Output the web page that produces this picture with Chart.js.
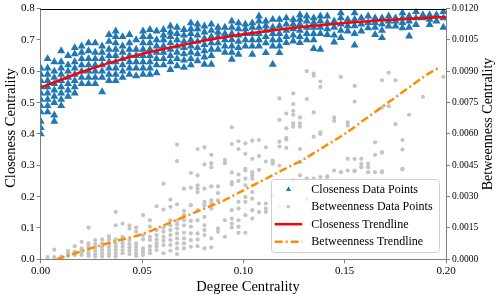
<!DOCTYPE html>
<html>
<head>
<meta charset="utf-8">
<script src="https://cdn.jsdelivr.net/npm/chart.js@4/dist/chart.umd.min.js"></script>
<style>
html,body{margin:0;padding:0;background:#fff;}
canvas{display:block;}
</style>
</head>
<body>
<canvas id="c" width="498" height="295"></canvas>
<script>
// ---------- DATA ----------
const xTitle = 'Degree Centrality';
const yTitle = 'Closeness Centrality';
const y1Title = 'Betweenness Centrality';
const legendLabels = ['Closeness Data Points', 'Betweenness Data Points', 'Closeness Trendline', 'Betweenness Trendline'];

const xTicks = [0, 0.05, 0.10, 0.15, 0.20];
const yTicks = [0, 0.1, 0.2, 0.3, 0.4, 0.5, 0.6, 0.7, 0.8];
const y1Ticks = [0, 0.0015, 0.003, 0.0045, 0.006, 0.0075, 0.009, 0.0105, 0.012];

// degree-centrality columns (discrete values)
const degreeCols = [0.0000,0.0034,0.0067,0.0101,0.0135,0.0168,0.0202,0.0236,0.0269,0.0303,
  0.0337,0.0370,0.0404,0.0438,0.0471,0.0505,0.0539,0.0572,0.0606,0.0640,
  0.0673,0.0707,0.0741,0.0774,0.0808,0.0842,0.0875,0.0909,0.0943,0.0976,
  0.1010,0.1044,0.1077,0.1111,0.1145,0.1178,0.1212,0.1246,0.1279,0.1313,
  0.1347,0.1380,0.1414,0.1448,0.1481,0.1515,0.1549,0.1582,0.1616,0.1650,
  0.1684,0.1717,0.1751,0.1785,0.1818,0.1852,0.1886,0.1919,0.1953,0.1987];

// closeness values per degree column
const closenessCols = [
  [.40,.42,.44,.47,.49,.51,.53,.55,.57,.59,.61],
  [.47,.49,.51,.53,.55,.57,.59,.61,.64],
  [.44,.46,.50,.52,.54,.56,.58,.60,.63],
  [.49,.51,.53,.55,.57,.59,.61,.63,.665],
  [.52,.54,.56,.58,.60,.62,.65],
  [.53,.55,.57,.59,.61,.63,.655,.675],
  [.56,.58,.60,.62,.64,.66,.68],
  [.56,.58,.60,.62,.64,.665,.69],
  [.56,.58,.60,.62,.64,.66,.69],
  [.534,.58,.60,.62,.64,.66,.68],
  [.57,.59,.61,.63,.65,.67,.695,.717],
  [.57,.59,.61,.63,.65,.67,.69,.71,.728],
  [.58,.60,.62,.64,.66,.68,.71],
  [.59,.61,.63,.65,.67,.69,.717],
  [.585,.61,.63,.65,.67,.70],
  [.59,.61,.63,.65,.67,.69,.71,.728],
  [.59,.61,.63,.65,.67,.69,.71,.733],
  [.595,.62,.64,.66,.68,.70,.728],
  [.62,.64,.66,.68,.70,.715,.733],
  [.605,.63,.65,.67,.69,.71,.725,.744],
  [.617,.64,.66,.68,.70,.72,.74],
  [.612,.635,.655,.675,.695,.715,.733],
  [.62,.64,.66,.68,.70,.72,.735,.754],
  [.633,.655,.675,.695,.715,.735,.75],
  [.622,.645,.665,.685,.705,.725,.744],
  [.622,.65,.67,.69,.71,.73,.75],
  [.67,.69,.71,.725,.74],
  [.66,.68,.70,.72,.74],
  [.638,.66,.68,.70,.72,.74,.76],
  [.654,.675,.695,.715,.735,.754],
  [.68,.70,.72,.735,.75],
  [.654,.68,.70,.72,.74,.754],
  [.68,.70,.72,.74,.76,.776],
  [.659,.69,.71,.73,.745,.76],
  [.622,.68,.70,.72,.74,.765],
  [.659,.68,.70,.72,.745,.765],
  [.691,.71,.73,.75,.77],
  [.696,.715,.735,.75,.765],
  [.691,.71,.73,.75,.765,.78],
  [.70,.72,.74,.76,.776],
  [.672,.70,.72,.74,.755,.77],
  [.67,.72,.74,.76,.776],
  [.717,.735,.755,.776],
  [.693,.715,.74,.76],
  [.707,.73,.75,.77,.786],
  [.728,.745,.765],
  [.683,.72,.745,.765,.786],
  [.728,.75,.77],
  [.738,.755,.776],
  [.717,.74,.755,.77],
  [.707,.73,.75,.77],
  [.744,.76,.776],
  [.744,.76,.77],
  [.738,.755,.77,.786],
  [.712,.74,.76,.776],
  [.749,.77,.79],
  [.77,.78],
  [.749,.765,.78],
  [.76,.78],
  [.74,.77,.79]
];

// betweenness values per degree column
const betweennessCols = [
  [],
  [.0001],
  [.0001,.00046],
  [.00013],
  [.00016,.00029,.00041],
  [.00021,.00037,.00063],
  [.00021,.00037,.00052,.00084],
  [.00016,.00029,.00044,.0006,.00076,.00152],
  [.00013,.00025,.00041,.00057,.00073,.00092],
  [.00013,.00029,.00044,.0006,.00076,.00095],
  [.00016,.00029,.00044,.0006,.00076,.00095,.00111],
  [.00013,.00029,.00044,.0006,.00076,.00095,.00163,.00227],
  [.00029,.00044,.0006,.00076,.00092,.00108,.00171],
  [.00025,.00041,.00057,.00073,.00092,.00148,.00163],
  [.00016,.00029,.00044,.0006,.00076,.00132,.00152],
  [.00021,.00037,.00052,.00095,.00116,.00211],
  [.00029,.00044,.00063,.00092,.00108,.00156,.00187],
  [.00044,.00063,.00076,.00095,.00116,.0014,.00254],
  [.00029,.00068,.00089,.00108,.00132,.00152,.00238,.00362],
  [.00041,.00068,.00092,.00116,.0014,.00163,.00187,.00251,.00286],
  [.00025,.00052,.00076,.001,.00124,.00148,.00168,.00187,.00263,.0047,.00549],
  [.00052,.00076,.001,.00127,.00163,.00187,.00211,.00232,.00338],
  [.0006,.00092,.00124,.00156,.00184,.00259,.00343,.00413],
  [.00063,.00095,.00124,.00187,.00235,.00322,.00338,.00354,.00402,.00528],
  [.00052,.00116,.0014,.00163,.00203,.00259,.00275,.00338,.00454,.00536],
  [.00057,.001,.00243,.00267,.00282,.00349,.00441,.0046,.005],
  [.00132,.00148,.00282,.00317,.00349],
  [.00108,.00187,.0046,.00476],
  [.00152,.00171,.00195,.00235,.00359,.0037,.00416,.00552,.00632],
  [.00127,.00156,.00187,.00243,.00275,.00375,.00406,.00528,.00565],
  [.00127,.00211,.00275,.00298,.00354,.00386,.00425,.00433,.00505,.00555],
  [.00195,.00235,.0029,.00322,.00386,.00402,.00417,.00481,.00568],
  [.00227,.00267,.00428,.00494,.00571],
  [.00227,.00243,.00267,.00468,.00536],
  [.00306,.00457,.00465,.00473],
  [.00251,.00449,.0054,.00563,.00667,.0077],
  [.00251,.00533,.00573,.00581,.00627,.00698],
  [.00346,.00378,.00635,.00651,.00692,.00711,.00743,.00794],
  [.00402,.00465,.00528,.00635,.00651,.00679],
  [.0029,.00378,.00386,.00767,.00901],
  [.00386,.00587,.00703,.00878,.00889],
  [.00394,.006,.00608,.00825,.00851],
  [.00394,.00397],
  [.00425,.00663,.00679],
  [.00417,.00873],
  [.00425,.00481,.0064,.00655],
  [.00421,.00425,.00481,.00755,.0083],
  [.00441,.00457,.00481],
  [.00417,.00441,.00457],
  [.00417,.005,.0056],
  [.00417,.00421,.0051,.00513,.00727,.00857],
  [.00733,.00893],
  [.00647,.00857],
  [.0043,.00433,.00525,.00571],
  [.00692],
  [],
  [.00778],
  [],
  [],
  [.00873]
];

// trendlines
const closenessTrendX = [0,0.01,0.02,0.03,0.04,0.05,0.06,0.07,0.08,0.09,0.10,0.11,0.12,0.13,0.14,0.15,0.16,0.17,0.18,0.19,0.20];
const closenessTrendY = [0.548,0.573,0.597,0.619,0.638,0.655,0.670,0.684,0.697,0.708,0.718,0.727,0.735,0.742,0.748,0.754,0.759,0.763,0.767,0.770,0.773];
const betweennessTrendX = [0.008,0.02,0.03,0.04,0.05,0.06,0.07,0.08,0.09,0.10,0.11,0.12,0.13,0.14,0.15,0.16,0.17,0.18,0.19,0.197];
const betweennessTrendY = [0,0.00038,0.00068,0.00095,0.0012,0.0016,0.002,0.0024,0.0028,0.0033,0.0038,0.0043,0.0048,0.0054,0.0060,0.0067,0.0074,0.0081,0.0088,0.0092];

// ---------- BUILD ----------
const FONT = 'Liberation Serif';
const closenessPts = [];
closenessCols.forEach((col, i) => col.forEach(v => closenessPts.push({x: degreeCols[i], y: v})));
const betweennessPts = [];
betweennessCols.forEach((col, i) => col.forEach(v => betweennessPts.push({x: degreeCols[i], y: v})));
const cTrend = closenessTrendX.map((x, i) => ({x, y: closenessTrendY[i]}));
const bTrend = betweennessTrendX.map((x, i) => ({x, y: betweennessTrendY[i]}));

const COLORS = {blue:'#1f77b4', gray:'#c4c4c4', red:'#ff0000', orange:'#ff8c00', axis:'#808080'};
const DASH = [8, 3, 2, 3];

const decor = {
  id: 'decor',
  afterDraw(chart) {
    const c = chart.ctx, a = chart.chartArea;
    c.save();
    // top spine
    c.strokeStyle = '#000'; c.lineWidth = 1;
    c.beginPath(); c.moveTo(a.left, Math.round(a.top) + 0.5); c.lineTo(a.right, Math.round(a.top) + 0.5); c.stroke();
    // axis titles
    c.fillStyle = '#000'; c.textAlign = 'center'; c.textBaseline = 'middle';
    c.font = '14.5px "' + FONT + '"';
    c.fillText(xTitle, 248, 287.5);
    c.save(); c.translate(11, 128); c.rotate(-Math.PI / 2); c.fillText(yTitle, 0, 0); c.restore();
    c.font = '14px "' + FONT + '"';
    c.save(); c.translate(488, 124); c.rotate(-Math.PI / 2); c.fillText(y1Title, 0, 0); c.restore();

    // legend
    const bx = 271.5, by = 179.5, bw = 168, bh = 73, r = 3;
    c.beginPath();
    c.moveTo(bx + r, by); c.lineTo(bx + bw - r, by); c.arcTo(bx + bw, by, bx + bw, by + r, r);
    c.lineTo(bx + bw, by + bh - r); c.arcTo(bx + bw, by + bh, bx + bw - r, by + bh, r);
    c.lineTo(bx + r, by + bh); c.arcTo(bx, by + bh, bx, by + bh - r, r);
    c.lineTo(bx, by + r); c.arcTo(bx, by, bx + r, by, r); c.closePath();
    c.fillStyle = 'rgba(255,255,255,0.8)'; c.fill();
    c.strokeStyle = '#d0d0d0'; c.lineWidth = 1; c.stroke();

    const rows = [189.3, 206.7, 224.2, 241.7];
    const mx = 288.5;
    // triangle
    c.fillStyle = COLORS.blue;
    c.beginPath(); c.moveTo(mx, rows[0] - 3); c.lineTo(mx + 2.6, rows[0] + 1.6); c.lineTo(mx - 2.6, rows[0] + 1.6); c.closePath(); c.fill();
    // dot
    c.fillStyle = COLORS.gray;
    c.beginPath(); c.arc(mx, rows[1], 1.8, 0, Math.PI * 2); c.fill();
    // red line
    c.strokeStyle = COLORS.red; c.lineWidth = 2.5;
    c.beginPath(); c.moveTo(274.7, rows[2]); c.lineTo(302.3, rows[2]); c.stroke();
    // orange dash-dot
    c.strokeStyle = COLORS.orange; c.setLineDash(DASH);
    c.beginPath(); c.moveTo(274.7, rows[3]); c.lineTo(302.3, rows[3]); c.stroke();
    c.setLineDash([]);
    // texts
    c.fillStyle = '#000'; c.textAlign = 'left'; c.textBaseline = 'middle';
    c.font = '12px "' + FONT + '"';
    legendLabels.forEach((t, i) => c.fillText(t, 311.3, rows[i] + 0.5));
    c.restore();
  }
};

new Chart(document.getElementById('c'), {
  type: 'scatter',
  data: {
    datasets: [
      {label: legendLabels[3], type: 'line', data: bTrend, yAxisID: 'y1', borderColor: COLORS.orange, borderWidth: 2.5,
       borderDash: DASH, pointRadius: 0, fill: false, cubicInterpolationMode: 'monotone', order: 0},
      {label: legendLabels[2], type: 'line', data: cTrend, yAxisID: 'y', borderColor: COLORS.red, borderWidth: 2.5,
       pointRadius: 0, fill: false, cubicInterpolationMode: 'monotone', order: 1},
      {label: legendLabels[1], data: betweennessPts, yAxisID: 'y1', pointStyle: 'circle', pointRadius: 2.1,
       backgroundColor: COLORS.gray, borderWidth: 0, order: 2},
      {label: legendLabels[0], data: closenessPts, yAxisID: 'y', pointStyle: 'triangle', pointRadius: 4.6,
       backgroundColor: COLORS.blue, borderColor: COLORS.blue, borderWidth: 0, order: 3}
    ]
  },
  options: {
    responsive: false,
    animation: false,
    devicePixelRatio: 1,
    layout: {padding: {top: 7.3, left: 0, right: 0, bottom: 0}},
    plugins: {legend: {display: false}, tooltip: {enabled: false}},
    events: [],
    scales: {
      x: {
        type: 'linear', min: 0, max: 0.2,
        afterFit(s) { s.height = 35.7; },
        afterBuildTicks(s) { s.ticks = xTicks.map(v => ({value: v})); },
        ticks: {callback: v => v.toFixed(2), font: {family: FONT, size: 11}, color: '#000', padding: 1, maxRotation: 0, autoSkip: false},
        grid: {drawOnChartArea: false, tickLength: 4, tickColor: COLORS.axis},
        border: {color: COLORS.axis, width: 1},
        title: {display: false}
      },
      y: {
        type: 'linear', position: 'left', min: 0, max: 0.8,
        afterFit(s) { s.width = 40.7; },
        afterBuildTicks(s) { s.ticks = yTicks.map(v => ({value: v})); },
        ticks: {callback: v => v.toFixed(1), font: {family: FONT, size: 11}, color: '#000', padding: 2, autoSkip: false},
        grid: {drawOnChartArea: false, tickLength: 4, tickColor: COLORS.axis},
        border: {color: COLORS.axis, width: 1},
        title: {display: false}
      },
      y1: {
        type: 'linear', position: 'right', min: 0, max: 0.012,
        afterFit(s) { s.width = 52; },
        afterBuildTicks(s) { s.ticks = y1Ticks.map(v => ({value: v})); },
        ticks: {callback: v => v.toFixed(4), font: {family: FONT, size: 9.5}, color: '#000', padding: 2, autoSkip: false},
        grid: {drawOnChartArea: false, tickLength: 4, tickColor: COLORS.axis},
        border: {color: COLORS.axis, width: 1},
        title: {display: false}
      }
    }
  },
  plugins: [decor]
});
</script>
</body>
</html>
